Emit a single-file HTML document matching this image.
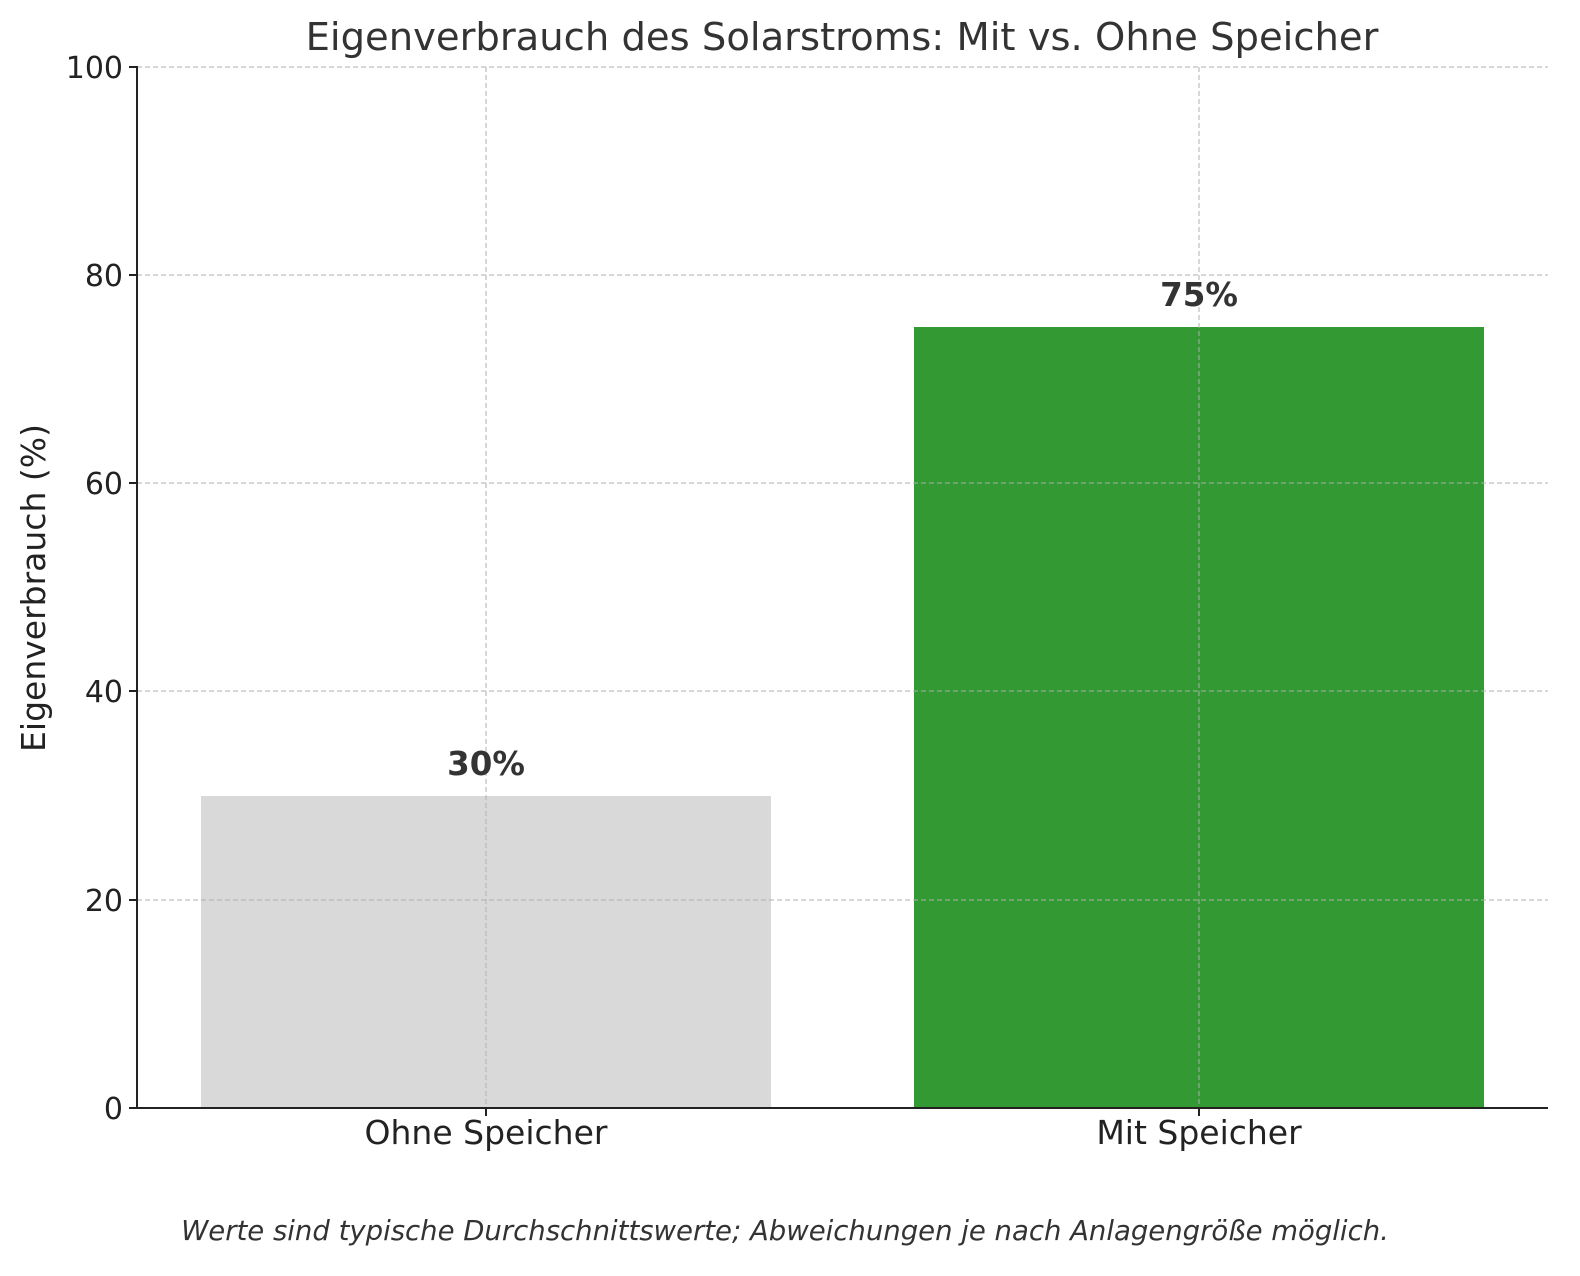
<!DOCTYPE html>
<html><head><meta charset="utf-8"><style>
html,body{margin:0;padding:0;background:#fff;}
svg{display:block;font-family:"DejaVu Sans","Liberation Sans",sans-serif;}
</style></head><body>
<svg width="1580" height="1276" viewBox="0 0 1580 1276" xmlns="http://www.w3.org/2000/svg">
<rect width="1580" height="1276" fill="#fff"/>
<text x="842" y="50" font-size="38.5" fill="#333" text-anchor="middle">Eigenverbrauch des Solarstroms: Mit vs. Ohne Speicher</text>
<rect x="201" y="796" width="570" height="312" fill="#d9d9d9"/>
<rect x="914" y="327" width="570" height="781" fill="#339933"/>
<g stroke="#b0b0b0" stroke-width="1.2" stroke-dasharray="5,3" opacity="0.8">
<line x1="137" y1="67" x2="1548" y2="67"/>
<line x1="137" y1="275" x2="1548" y2="275"/>
<line x1="137" y1="483" x2="1548" y2="483"/>
<line x1="137" y1="691" x2="1548" y2="691"/>
<line x1="137" y1="900" x2="1548" y2="900"/>
<line x1="486" y1="67" x2="486" y2="1108"/>
<line x1="1199" y1="67" x2="1199" y2="1108"/>
</g>
<g stroke="#222" stroke-width="2">
<line x1="137" y1="66" x2="137" y2="1109"/>
<line x1="136" y1="1108" x2="1548" y2="1108"/>
<line x1="129" y1="67" x2="137" y2="67"/>
<line x1="129" y1="275" x2="137" y2="275"/>
<line x1="129" y1="483" x2="137" y2="483"/>
<line x1="129" y1="691" x2="137" y2="691"/>
<line x1="129" y1="900" x2="137" y2="900"/>
<line x1="129" y1="1108" x2="137" y2="1108"/>
<line x1="486" y1="1108" x2="486" y2="1116"/>
<line x1="1199" y1="1108" x2="1199" y2="1116"/>
</g>
<g font-size="30" fill="#222" text-anchor="end">
<text x="123" y="78">100</text>
<text x="123" y="286">80</text>
<text x="123" y="494">60</text>
<text x="123" y="702">40</text>
<text x="123" y="911">20</text>
<text x="123" y="1119">0</text>
</g>
<g font-size="33" fill="#222" text-anchor="middle">
<text x="486" y="1144">Ohne Speicher</text>
<text x="1199" y="1144">Mit Speicher</text>
</g>
<text transform="translate(45,588) rotate(-90)" font-size="33" fill="#222" text-anchor="middle">Eigenverbrauch (%)</text>
<g font-size="32.5" font-weight="bold" fill="#333" text-anchor="middle">
<text x="486" y="775">30%</text>
<text x="1199" y="306">75%</text>
</g>
<text x="785" y="1240" font-size="27.5" font-style="italic" fill="#333" text-anchor="middle">Werte sind typische Durchschnittswerte; Abweichungen je nach Anlagengröße möglich.</text>
</svg>
</body></html>
